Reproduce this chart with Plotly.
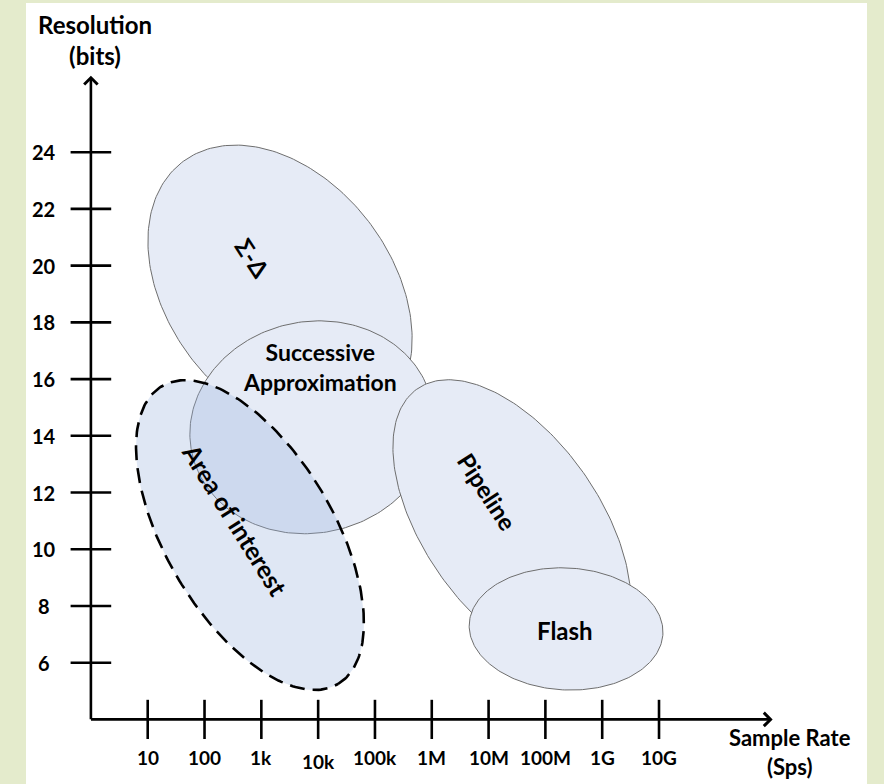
import numpy as np
import plotly.graph_objects as go

# ---------------- data ----------------
x_tick_pos = [1, 2, 3, 4, 5, 6, 7, 8, 9, 10]          # decades of Sps
x_tick_labels = ["10", "100", "1k", "10k", "100k", "1M", "10M", "100M", "1G", "10G"]
y_tick_vals = [6, 8, 10, 12, 14, 16, 18, 20, 22, 24]   # bits

# ADC regions (centre in decades / bits, semi-axes in decades, tilt clockwise in degrees)
region_names = ["Σ-Δ", "Successive Approximation", "Area of interest", "Pipeline", "Flash"]
region_cx = [3.329, 3.89, 2.80, 7.41, 8.364]
region_cy = [19.14, 14.30, 10.50, 10.89, 7.19]
region_a = [2.834, 2.160, 3.045, 2.904, 1.707]
region_b = [1.971, 1.860, 1.479, 1.549, 1.074]
region_tilt = [52.7, -12, 59.4, 55, 3]

label_text = ["Σ-Δ", "Successive<br>Approximation", "Area of interest", "Pipeline", "Flash"]
label_x = [2.836, 4.03, 2.53, 6.973, 8.345]
label_y = [20.27, 16.42, 11.05, 12.02, 7.15]
label_angle = [57, 0, 58, 57, 0]
label_size = [24, 23, 25, 24, 24]

x_axis_end = 12.0
y_axis_end = 26.7
origin = (0, 4)

# ---------------- layout constants ----------------
W, H = 884, 784
ML, MR, MT, MB = 26, 17, 3, 0
x_range = [-1.1424, 13.661]
y_range = [1.722, 29.261]
px_per_x = (W - ML - MR) / (x_range[1] - x_range[0])
px_per_y = (H - MT - MB) / (y_range[1] - y_range[0])
ratio = px_per_y / px_per_x  # visual units per bit

FONT = "Lato, Open Sans, Arial"
FILL = "rgb(230,235,246)"
EDGE = "rgb(110,110,110)"


def ellipse(cx, cy, a, b, tilt):
    t = np.linspace(0, 2 * np.pi, 240)
    phi = -np.radians(tilt)
    u = cx + a * np.cos(t) * np.cos(phi) - b * np.sin(t) * np.sin(phi)
    v = cy * ratio + a * np.cos(t) * np.sin(phi) + b * np.sin(t) * np.cos(phi)
    return u, v / ratio


fig = go.Figure()

styles = {
    "Σ-Δ": dict(fillcolor=FILL, line=dict(color=EDGE, width=1)),
    "Successive Approximation": dict(fillcolor=FILL, line=dict(color=EDGE, width=1)),
    "Area of interest": dict(fillcolor="rgba(150,175,220,0.30)",
                             line=dict(color="black", width=2.6, dash="15px,8px")),
    "Pipeline": dict(fillcolor=FILL, line=dict(color=EDGE, width=1)),
    "Flash": dict(fillcolor=FILL, line=dict(color=EDGE, width=1)),
}

for i, name in enumerate(region_names):
    ex, ey = ellipse(region_cx[i], region_cy[i], region_a[i], region_b[i], region_tilt[i])
    fig.add_trace(go.Scatter(x=ex, y=ey, mode="lines", fill="toself", name=name,
                             hoverinfo="skip", **styles[name]))

# ticks (crossing the axes)
fig.add_trace(go.Scatter(x=x_tick_pos, y=[origin[1]] * len(x_tick_pos), mode="markers",
                         marker=dict(symbol="line-ns", size=28, line=dict(color="black", width=2.6)),
                         hoverinfo="skip"))
fig.add_trace(go.Scatter(x=[origin[0]] * len(y_tick_vals), y=y_tick_vals, mode="markers",
                         marker=dict(symbol="line-ew", size=29, line=dict(color="black", width=2.6)),
                         hoverinfo="skip"))

ann = []
# axes with open arrow heads
ann.append(dict(x=x_axis_end, y=origin[1], ax=origin[0] - 0.025, ay=origin[1], xref="x", yref="y",
                axref="x", ayref="y", text="", showarrow=True, arrowhead=4, arrowwidth=2.6,
                arrowsize=1, arrowcolor="black", standoff=0))
ann.append(dict(x=origin[0], y=y_axis_end, ax=origin[0], ay=origin[1] - 0.05, xref="x", yref="y",
                axref="x", ayref="y", text="", showarrow=True, arrowhead=4, arrowwidth=2.6,
                arrowsize=1, arrowcolor="black", standoff=0))

label_drop = {"10k": -4}
for p, lab in zip(x_tick_pos, x_tick_labels):
    ann.append(dict(x=p, y=origin[1], xref="x", yref="y", text=f"<b>{lab}</b>", showarrow=False,
                    yshift=-38 + label_drop.get(lab, 0), font=dict(family=FONT, size=19, color="black")))
for v in y_tick_vals:
    ann.append(dict(x=origin[0], y=v, xref="x", yref="y", text=f"<b>{v}</b>", showarrow=False,
                    xshift=-47, font=dict(family=FONT, size=20, color="black")))

for t, x, y, ang, sz in zip(label_text, label_x, label_y, label_angle, label_size):
    ann.append(dict(x=x, y=y, xref="x", yref="y", text=f"<b>{t}</b>", showarrow=False,
                    textangle=ang, font=dict(family=FONT, size=sz, color="black")))

ann.append(dict(x=0.065, y=27.96, xref="x", yref="y", text="<b>Resolution<br>(bits)</b>",
                showarrow=False, font=dict(family=FONT, size=24, color="black")))
ann.append(dict(x=12.31, y=origin[1], xref="x", yref="y", text="<b>Sample Rate<br>(Sps)</b>",
                showarrow=False, yanchor="bottom", yshift=-63,
                font=dict(family=FONT, size=22, color="black")))

fig.update_layout(
    width=W, height=H, autosize=False,
    margin=dict(l=ML, r=MR, t=MT, b=MB, pad=0),
    paper_bgcolor="rgb(228,235,204)", plot_bgcolor="white",
    showlegend=False, annotations=ann,
    xaxis=dict(range=x_range, visible=False, fixedrange=True),
    yaxis=dict(range=y_range, visible=False, fixedrange=True),
)

fig.write_html("out.html", config={"displayModeBar": False},
               post_script="document.body.style.margin='0';document.body.style.overflow='hidden';")
